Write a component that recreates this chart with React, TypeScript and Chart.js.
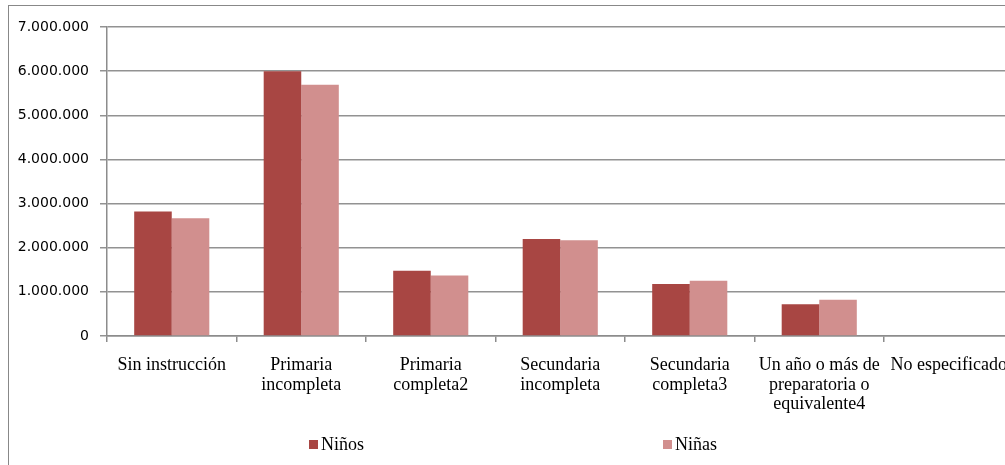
import React, { useEffect, useRef } from "react";
import { Chart, registerables } from "chart.js";
Chart.register(...registerables);

const categories: string[][] = [
  ["Sin instrucción"],
  ["Primaria", "incompleta"],
  ["Primaria", "completa2"],
  ["Secundaria", "incompleta"],
  ["Secundaria", "completa3"],
  ["Un año o más de", "preparatoria o", "equivalente4"],
  ["No especificado"],
];
const ninos = [2820000, 6000000, 1480000, 2200000, 1180000, 720000, 0];
const ninas = [2670000, 5690000, 1370000, 2170000, 1250000, 820000, 0];
const seriesLabels = ["Niños", "Niñas"];
const seriesColors = ["#A84643", "#D18F8E"];
const yMax = 7000000;
const yStep = 1000000;

const fmt = (v: number) => String(Math.round(v)).replace(/\B(?=(\d{3})+(?!\d))/g, ".");

const legendPlugin = {
  id: "excelLegend",
  afterDraw(chart: any) {
    const ctx = chart.ctx;
    const cx = chart.width / 2;
    ctx.save();
    chart.data.datasets.forEach((ds: any, i: number) => {
      const x = cx - 205 + i * 354;
      const yBase = 444;
      ctx.fillStyle = ds.backgroundColor;
      ctx.fillRect(x, yBase - 10, 9, 9);
      ctx.fillStyle = "#000";
      ctx.font = '18px "Liberation Serif"';
      ctx.textBaseline = "alphabetic";
      ctx.textAlign = "left";
      ctx.fillText(ds.label, x + 12, yBase);
    });
    ctx.restore();
  },
};

export default function App() {
  const ref = useRef<HTMLCanvasElement | null>(null);
  useEffect(() => {
    if (!ref.current) return;
    const chart = new Chart(ref.current, {
      type: "bar",
      data: {
        labels: categories,
        datasets: [
          { label: seriesLabels[0], data: ninos, backgroundColor: seriesColors[0], categoryPercentage: 0.58, barPercentage: 1 },
          { label: seriesLabels[1], data: ninas, backgroundColor: seriesColors[1], categoryPercentage: 0.58, barPercentage: 1 },
        ],
      },
      options: {
        responsive: false,
        animation: false,
        layout: { padding: { top: 21, right: 5.5, left: 0, bottom: 0 } },
        plugins: { legend: { display: false }, tooltip: { enabled: false } },
        scales: {
          x: {
            afterFit: (s: any) => { s.height = 132; s.paddingLeft = 0; s.paddingRight = 0; },
            grid: { offset: true, drawOnChartArea: false, drawTicks: true, tickLength: 6, color: "#8c8c8c", lineWidth: 1.5 },
            border: { display: true, color: "#8c8c8c", width: 1.5 },
            ticks: {
              autoSkip: false,
              maxRotation: 0,
              minRotation: 0,
              padding: 14,
              color: "#000",
              font: { family: '"Liberation Serif"', size: 18, lineHeight: 1.08 },
            },
          },
          y: {
            min: 0,
            max: yMax,
            afterFit: (s: any) => { s.width = 98; },
            grid: { color: "#929292", lineWidth: 1.5, tickLength: 7, drawTicks: true },
            border: { display: true, color: "#8c8c8c", width: 1.5 },
            ticks: {
              stepSize: yStep,
              padding: 11,
              color: "#000",
              font: { family: '"DejaVu Sans"', size: 14 },
              callback: (v: any) => fmt(Number(v)),
            },
          },
        },
      },
      plugins: [legendPlugin],
    });
    return () => chart.destroy();
  }, []);
  return (
    <div style={{ position: "fixed", left: 0, top: 0, width: 1005, height: 465, overflow: "hidden", background: "#fff" }}>
      <div style={{ position: "absolute", left: 8, top: 5, width: 1040, height: 490, border: "1px solid #888", boxSizing: "border-box" }}>
        <canvas ref={ref} width={1010} height={462} style={{ position: "absolute", left: 0, top: 0, width: 1010, height: 462 }} />
      </div>
    </div>
  );
}
